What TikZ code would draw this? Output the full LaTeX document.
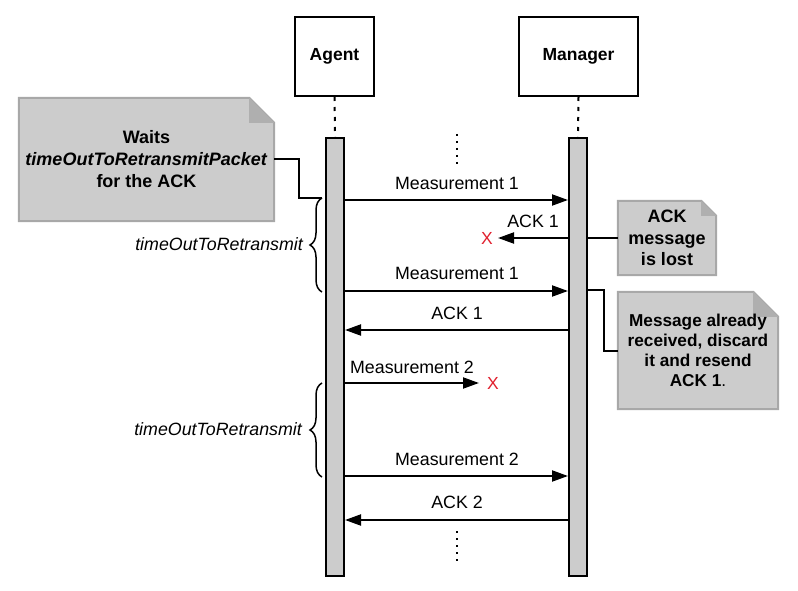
\documentclass[tikz,border=0pt]{standalone}
\usepackage{fontspec}
\setmainfont{Liberation Sans}
\usetikzlibrary{arrows.meta,decorations.pathreplacing,calc,backgrounds}
\definecolor{barfill}{HTML}{CCCCCC}
\definecolor{notefill}{HTML}{CCCCCC}
\definecolor{noteline}{HTML}{A8A8A8}
\definecolor{foldfill}{HTML}{AFAFAF}
\definecolor{lostred}{HTML}{E0202E}
\newcommand\dognote[2]{%
  \begin{scope}[on background layer]
  \filldraw[fill=notefill,draw=noteline,line width=2pt,line join=miter]
    (#1.north west) -- ($(#1.north east)+(-#2,0)$) -- ($(#1.north east)+(0,#2)$)
    -- (#1.south east) -- (#1.south west) -- cycle;
  \fill[foldfill] ($(#1.north east)+(-#2,0)$) -- ($(#1.north east)+(-#2,#2)$)
    -- ($(#1.north east)+(0,#2)$) -- cycle;
  \end{scope}}
\begin{document}
\begin{tikzpicture}[x=1pt,y=-1pt,
  actor/.style={draw,line width=2pt,minimum width=79pt,minimum height=79pt,inner sep=0pt,
    font=\fontsize{17.5}{20}\selectfont\bfseries},
  bar/.style={draw,fill=barfill,line width=2pt,minimum width=18pt,minimum height=438pt,inner sep=0pt},
  msg/.style={line width=2pt,-{Triangle[length=16pt,width=11pt]}},
  lbl/.style={font=\fontsize{17.8}{21}\selectfont,inner sep=0pt},
  lost/.style={font=\fontsize{17.5}{20}\selectfont,text=lostred,inner sep=0pt},
  lifeline/.style={line width=2pt,dash pattern=on 4pt off 6pt},
  vdots/.style={line width=1.6pt,dash pattern=on 1.6pt off 5.4pt},
  notebox/.style={inner sep=0pt,align=center},
  link/.style={line width=2pt},
  curly/.style={line width=1.5pt,decorate,decoration={brace,amplitude=12pt}},
]
\useasboundingbox (0,0) rectangle (798,591);
% actors
\node[actor] (agent) at (334.5,56.5) {Agent};
\node[actor,minimum width=119pt] (manager) at (578.5,56.5) {Manager};
% bars
\node[bar] (abar) at (335,357) {};
\node[bar] (mbar) at (578,357) {};
\draw[lifeline] (agent.south) -- (abar.north);
\draw[lifeline] (manager.south) -- (mbar.north);
% continuation dots
\coordinate (d1a) at (457,134);
\coordinate (d1b) at (457,167);
\coordinate (d2a) at (457,531);
\coordinate (d2b) at (457,564);
\draw[vdots] (d1a) -- (d1b);
\draw[vdots] (d2a) -- (d2b);
% messages
\draw[msg] (abar.east |- 0,200) -- (mbar.west |- 0,200);
\node[lbl] (m1) at (457,183) {Measurement 1};
\coordinate (l1) at (498,238);
\node[lost] (x1) at (487,238) {X};
\draw[msg] (mbar.west |- 0,238) -- (l1);
\node[lbl] (a1) at (533,221) {ACK 1};
\draw[msg] (abar.east |- 0,291) -- (mbar.west |- 0,291);
\node[lbl] (m2) at (457,273) {Measurement 1};
\draw[msg] (mbar.west |- 0,330) -- (abar.east |- 0,330);
\node[lbl] (a2) at (457,313) {ACK 1};
\coordinate (l2) at (479,383);
\node[lost] (x2) at (493,383) {X};
\draw[msg] (abar.east |- 0,383) -- (l2);
\node[lbl] (m3) at (412,367) {Measurement 2};
\draw[msg] (abar.east |- 0,476) -- (mbar.west |- 0,476);
\node[lbl] (m4) at (457,459) {Measurement 2};
\draw[msg] (mbar.west |- 0,520) -- (abar.east |- 0,520);
\node[lbl] (a3) at (457,502) {ACK 2};
% braces
\coordinate (b1t) at (322,198);
\coordinate (b1b) at (322,292);
\coordinate (b2t) at (322,383);
\coordinate (b2b) at (322,477);
\draw[curly] (b1b) -- (b1t);
\draw[curly] (b2b) -- (b2t);
\node[lbl,anchor=east,font=\fontsize{17.8}{21}\selectfont\itshape] (t1) at (303,244) {timeOutToRetransmit};
\node[lbl,anchor=east,font=\fontsize{17.8}{21}\selectfont\itshape] (t2) at (302,429) {timeOutToRetransmit};
% notes
\node[notebox,minimum width=255pt,minimum height=123pt,font=\fontsize{18}{22}\selectfont\bfseries]
  (n1) at (146.5,159.5) {Waits\\\textit{timeOutToRetransmitPacket}\\for the ACK};
\dognote{n1}{25}
\node[notebox,minimum width=98pt,minimum height=74pt,font=\fontsize{18}{21.5}\selectfont\bfseries]
  (n2) at (667,238) {ACK\\message\\is lost};
\dognote{n2}{15}
\node[notebox,minimum width=160pt,minimum height=117pt,font=\fontsize{17.2}{20}\selectfont\bfseries]
  (n3) at (698,350.5) {Message already\\received, discard\\it and resend\\ACK 1\textmd{.}};
\dognote{n3}{25}
% note links
\draw[link] (n1.east) -- ++(25,0) |- (b1t);
\draw[link] (n2.west) -- (n2.west -| mbar.east);
\coordinate (c3) at (588,290);
\draw[link] (n3.west) -- ++(-14,0) |- (c3);
\end{tikzpicture}
\end{document}
